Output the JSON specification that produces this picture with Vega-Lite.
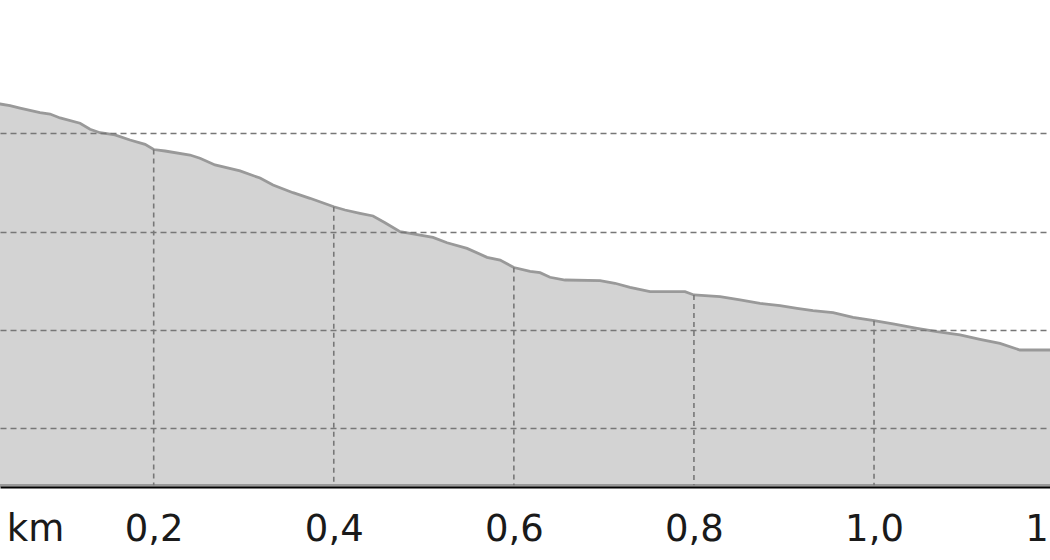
{
  "$schema": "https://vega.github.io/schema/vega-lite/v6.json",
  "width": 1050,
  "height": 487,
  "padding": {"top": 0, "left": 0, "right": 0, "bottom": 73},
  "autosize": {"type": "none"},
  "background": "white",
  "config": {
    "view": {"stroke": null},
    "font": "DejaVu Sans"
  },
  "datasets": {
    "profile": [
      {"km": 0.0204, "ele": 43.18},
      {"km": 0.0293, "ele": 42.98},
      {"km": 0.0404, "ele": 42.81},
      {"km": 0.0515, "ele": 42.57},
      {"km": 0.0737, "ele": 42.10},
      {"km": 0.0849, "ele": 41.96},
      {"km": 0.0960, "ele": 41.56},
      {"km": 0.1182, "ele": 41.02},
      {"km": 0.1293, "ele": 40.41},
      {"km": 0.1404, "ele": 40.06},
      {"km": 0.1570, "ele": 39.83},
      {"km": 0.1737, "ele": 39.32},
      {"km": 0.1904, "ele": 38.88},
      {"km": 0.2000, "ele": 38.35},
      {"km": 0.2126, "ele": 38.20},
      {"km": 0.2403, "ele": 37.79},
      {"km": 0.2514, "ele": 37.46},
      {"km": 0.2681, "ele": 36.78},
      {"km": 0.2959, "ele": 36.17},
      {"km": 0.3181, "ele": 35.45},
      {"km": 0.3325, "ele": 34.74},
      {"km": 0.3547, "ele": 33.96},
      {"km": 0.3736, "ele": 33.39},
      {"km": 0.4000, "ele": 32.53},
      {"km": 0.4125, "ele": 32.20},
      {"km": 0.4291, "ele": 31.86},
      {"km": 0.4436, "ele": 31.59},
      {"km": 0.4569, "ele": 30.91},
      {"km": 0.4736, "ele": 29.99},
      {"km": 0.4880, "ele": 29.76},
      {"km": 0.5102, "ele": 29.42},
      {"km": 0.5258, "ele": 28.87},
      {"km": 0.5480, "ele": 28.30},
      {"km": 0.5702, "ele": 27.39},
      {"km": 0.5847, "ele": 27.11},
      {"km": 0.6000, "ele": 26.35},
      {"km": 0.6180, "ele": 25.95},
      {"km": 0.6291, "ele": 25.82},
      {"km": 0.6401, "ele": 25.36},
      {"km": 0.6568, "ele": 25.08},
      {"km": 0.6957, "ele": 25.01},
      {"km": 0.7123, "ele": 24.75},
      {"km": 0.7290, "ele": 24.34},
      {"km": 0.7512, "ele": 23.89},
      {"km": 0.7901, "ele": 23.89},
      {"km": 0.8000, "ele": 23.56},
      {"km": 0.8290, "ele": 23.38},
      {"km": 0.8512, "ele": 23.05},
      {"km": 0.8734, "ele": 22.71},
      {"km": 0.8956, "ele": 22.47},
      {"km": 0.9145, "ele": 22.20},
      {"km": 0.9322, "ele": 21.96},
      {"km": 0.9545, "ele": 21.76},
      {"km": 0.9767, "ele": 21.29},
      {"km": 1.0000, "ele": 20.94},
      {"km": 1.0211, "ele": 20.61},
      {"km": 1.0478, "ele": 20.17},
      {"km": 1.0699, "ele": 19.82},
      {"km": 1.0955, "ele": 19.49},
      {"km": 1.1177, "ele": 19.05},
      {"km": 1.1399, "ele": 18.64},
      {"km": 1.1621, "ele": 17.96},
      {"km": 1.1955, "ele": 17.96},
      {"km": 1.2066, "ele": 17.91}
    ],
    "grid": [
      {"km": 0.2, "ele": 38.35},
      {"km": 0.4, "ele": 32.53},
      {"km": 0.6, "ele": 26.35},
      {"km": 0.8, "ele": 23.56},
      {"km": 1.0, "ele": 20.94}
    ]
  },
  "layer": [
    {
      "data": {"name": "profile"},
      "mark": {
        "type": "area",
        "clip": true,
        "fill": "#d3d3d3",
        "stroke": "#999999",
        "strokeWidth": 2.8,
        "interpolate": "linear"
      },
      "encoding": {
        "x": {
          "field": "km",
          "type": "quantitative",
          "scale": {"domain": [0.0293, 1.2010], "range": [0, 1055], "nice": false, "zero": false},
          "axis": {
            "title": null,
            "values": [0.0682, 0.2, 0.4, 0.6, 0.8, 1.0, 1.2],
            "labelExpr": "datum.value < 0.1 ? 'km' : replace(format(datum.value, '.1f'), '.', ',')",
            "grid": false,
            "ticks": false,
            "domain": true,
            "domainColor": "#000000",
            "domainWidth": 2,
            "labelFont": "DejaVu Sans",
            "labelFontSize": 37,
            "labelColor": "#1a1a1a",
            "labelPadding": 24,
            "labelFlush": false,
            "labelOverlap": false,
            "zindex": 1
          }
        },
        "y": {
          "field": "ele",
          "type": "quantitative",
          "scale": {"domain": [4.03, 53.556], "nice": false, "zero": false},
          "axis": {
            "title": null,
            "values": [10, 20, 30, 40],
            "grid": true,
            "gridColor": "#777777",
            "gridDash": [6, 4],
            "gridWidth": 1.6,
            "domain": false,
            "ticks": false,
            "labels": false,
            "zindex": 1
          }
        },
        "y2": {"datum": 4.2}
      }
    },
    {
      "data": {"name": "grid"},
      "mark": {
        "type": "rule",
        "color": "#777777",
        "strokeWidth": 1.6,
        "strokeDash": [5, 4]
      },
      "encoding": {
        "x": {"field": "km", "type": "quantitative"},
        "y": {"field": "ele", "type": "quantitative"},
        "y2": {"datum": 4.2}
      }
    }
  ]
}
